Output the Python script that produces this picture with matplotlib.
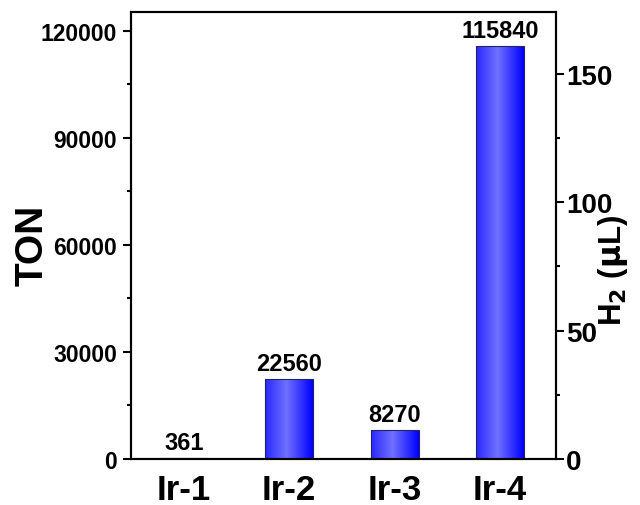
import matplotlib.pyplot as plt
import numpy as np
from matplotlib.colors import LinearSegmentedColormap
from matplotlib.ticker import MultipleLocator

plt.rcParams['font.family'] = ['Liberation Sans', 'DejaVu Sans']
plt.rcParams['font.weight'] = 'bold'

catalysts = ['Ir-1', 'Ir-2', 'Ir-3', 'Ir-4']
ton = [361, 22560, 8270, 115840]

fig = plt.figure(figsize=(6.4, 5.06), dpi=100)
ax = fig.add_axes([0.2047, 0.0909, 0.6641, 0.8834])

# horizontal shading inside each bar: saturated blue edges, lighter middle
shade = LinearSegmentedColormap.from_list(
    'bar_shade', [(0.0, '#2828ff'), (0.45, '#7070ff'), (1.0, '#0000ff')])
grad = np.linspace(0, 1, 256).reshape(1, -1)

x = np.arange(len(catalysts))
width = 0.455
bars = ax.bar(x, ton, width=width, color='none', edgecolor='#222266',
              linewidth=0.8, zorder=3)
for b in bars:
    x0, y0 = b.get_x(), b.get_y()
    im = ax.imshow(grad, cmap=shade, aspect='auto', zorder=2,
                   extent=[x0, x0 + b.get_width(), y0, y0 + b.get_height()])
    im.set_clip_path(b)

for xi, v in zip(x, ton):
    ax.text(xi, v + 1000, f'{v}', ha='center', va='bottom',
            fontsize=17, fontweight='bold')

ax.set_xlim(-0.5, 3.53)
ax.set_ylim(0, 125300)
ax.set_xticks(x)
ax.set_xticklabels(catalysts, fontsize=25, fontweight='bold')
ax.tick_params(axis='x', length=0, pad=10)
ax.yaxis.set_major_locator(MultipleLocator(30000))
ax.yaxis.set_minor_locator(MultipleLocator(15000))
ax.tick_params(axis='y', which='major', direction='out', length=6, width=1.5,
               labelsize=16.5, pad=4)
ax.tick_params(axis='y', which='minor', direction='out', length=3, width=1.5)
ax.set_ylabel('TON', fontsize=28, fontweight='bold')
ax.yaxis.set_label_coords(-0.19, 0.48)
for s in ax.spines.values():
    s.set_linewidth(1.5)

ax2 = ax.twinx()
ax2.set_ylim(0, 174)
ax2.yaxis.set_major_locator(MultipleLocator(50))
ax2.yaxis.set_minor_locator(MultipleLocator(25))
ax2.tick_params(axis='y', which='major', direction='out', length=6, width=1.5,
                labelsize=20, pad=1)
ax2.tick_params(axis='y', which='minor', direction='out', length=3, width=1.5)
ax2.set_ylabel(r'H$_2$ ($\mathbf{\mu}$L)', fontsize=22.5, fontweight='bold',
               rotation=90)
ax2.yaxis.set_label_coords(1.095, 0.423)
for s in ax2.spines.values():
    s.set_linewidth(1.5)

fig.savefig('out.png', dpi=100)
